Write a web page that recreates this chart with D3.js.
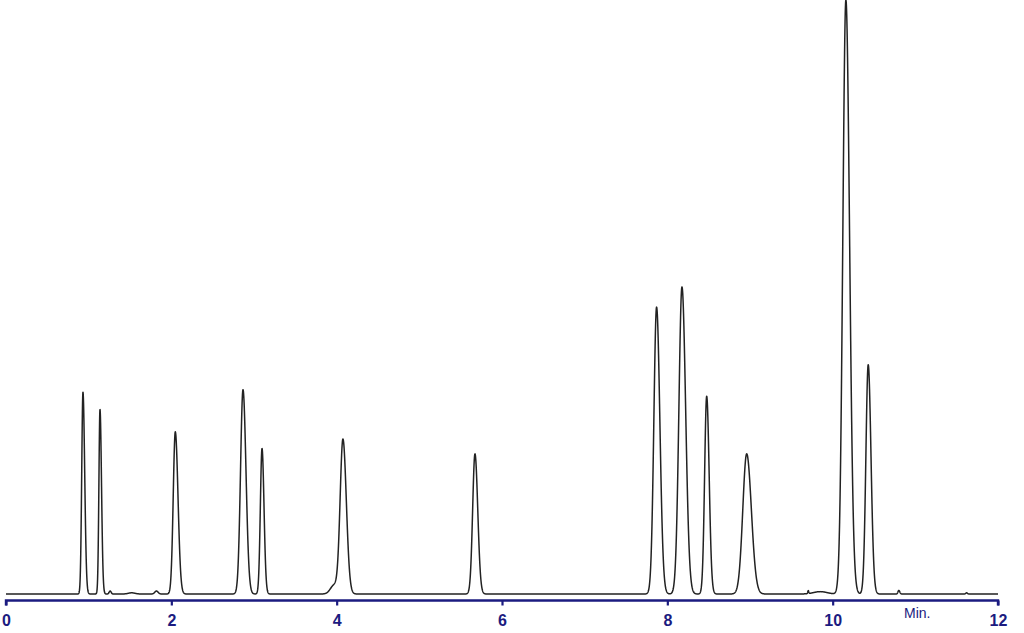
<!DOCTYPE html>
<html>
<head>
<meta charset="utf-8">
<script src="https://cdn.jsdelivr.net/npm/d3@7"></script>
<style>
  body { margin: 0; background: #fff; }
  svg { display: block; }
</style>
</head>
<body>
<svg width="1024" height="633"></svg>
<script>
// peak table (time in min, height in % of the largest peak)
const peakTimes   = [0.931, 1.137, 1.26, 1.52, 1.82, 2.048, 2.867, 3.097, 3.97, 4.076, 5.673, 7.870, 8.177, 8.476, 8.960, 9.705, 9.85, 10.160, 10.430, 10.80, 11.62];
const peakHeights = [34.0, 31.1, 0.5, 0.2, 0.5, 27.3, 34.4, 24.5, 1.5, 26.0, 23.6, 48.3, 51.7, 33.3, 23.6, 0.5, 0.4, 100, 38.6, 0.6, 0.2];
const peakWidths  = [0.015, 0.013, 0.012, 0.04, 0.02, 0.025, 0.030, 0.020, 0.045, 0.034, 0.028, 0.033, 0.037, 0.025, 0.047, 0.006, 0.08, 0.037, 0.028, 0.01, 0.01];
const peakTails   = [1.4, 1.4, 1.0, 1.0, 1.0, 1.3, 1.2, 1.2, 1.0, 1.2, 1.2, 1.2, 1.2, 1.2, 1.2, 1.0, 1.0, 1.2, 1.2, 1.2, 1.0];
const tickValues  = [0, 2, 4, 6, 8, 10, 12];
const axisLabel   = "Min.";

const svg = d3.select("svg");

const x = d3.scaleLinear()
  .domain([0, 12])
  .range([6, 998]);

const y = d3.scaleLinear()
  .domain([0, 100])
  .range([594, 0]);

// build the trace from the peak table
const peaks = peakTimes.map((t, i) => ({
  t: t, h: peakHeights[i], s: peakWidths[i], tail: peakTails[i]
}));

const trace = d3.range(0, 12.0001, 0.002).map(t => {
  let v = 0;
  peaks.forEach(p => {
    const s = t < p.t ? p.s : p.s * p.tail;
    v += p.h * Math.exp(-0.5 * Math.pow((t - p.t) / s, 2));
  });
  return [t, v];
});

const line = d3.line()
  .x(d => x(d[0]))
  .y(d => y(d[1]));

svg.append("path")
  .datum(trace)
  .attr("fill", "none")
  .attr("stroke", "#222")
  .attr("stroke-width", 1.5)
  .attr("stroke-linejoin", "round")
  .attr("d", line);

const axis = svg.append("g")
  .attr("transform", "translate(0,600.5)")
  .call(d3.axisBottom(x)
    .tickValues(tickValues)
    .tickSize(5)
    .tickPadding(9)
    .tickFormat(d3.format("d")));

axis.select(".domain")
  .attr("stroke", "#1b1b80")
  .attr("stroke-width", 2.4)
  .attr("d", `M${x(0)},5V0H${x(12)}V5`);

axis.selectAll(".tick line")
  .attr("stroke", "#1b1b80")
  .attr("stroke-width", 2.2);

axis.selectAll(".tick text")
  .attr("fill", "#1b1b80")
  .attr("font-family", "Liberation Sans, Arial, sans-serif")
  .attr("font-size", 16)
  .attr("font-weight", "bold");

svg.append("text")
  .attr("x", 904)
  .attr("y", 618)
  .attr("fill", "#1b1b80")
  .attr("font-family", "Liberation Sans, Arial, sans-serif")
  .attr("font-size", 14)
  .text(axisLabel);
</script>
</body>
</html>
